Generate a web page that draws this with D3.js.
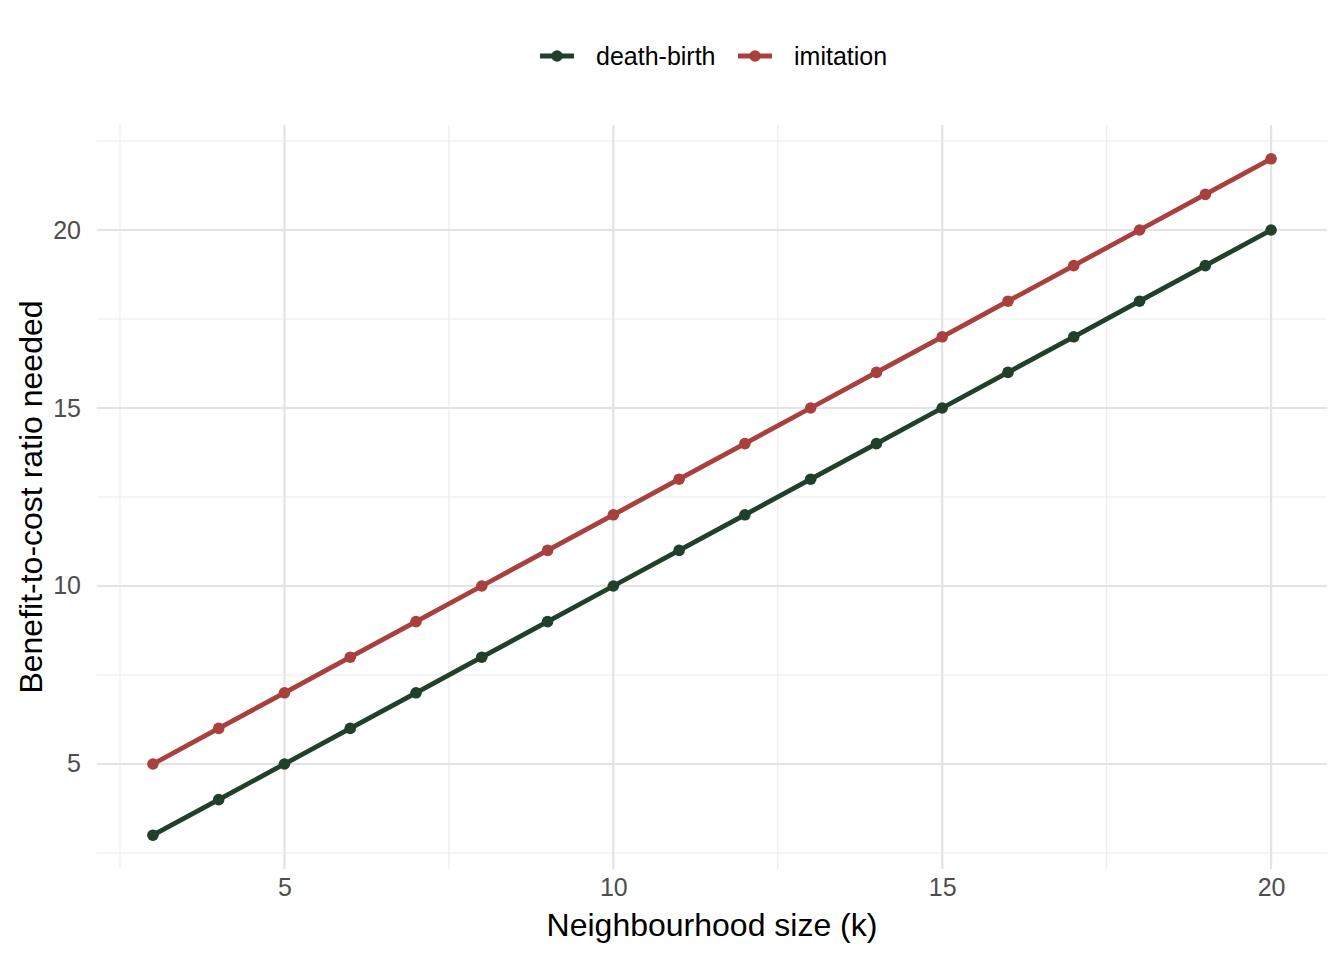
<!DOCTYPE html>
<html lang="en">
<head>
<meta charset="UTF-8" />
<title>Benefit-to-cost ratio</title>
<script src="https://cdn.jsdelivr.net/npm/d3@7"></script>
<style>
  body { margin: 0; background: #fff; }
  svg { font-family: "Liberation Sans", Arial, sans-serif; }
</style>
</head>
<body>
<div id="chart"></div>
<script>
var ks = [3,4,5,6,7,8,9,10,11,12,13,14,15,16,17,18,19,20];
var deathBirth = [3,4,5,6,7,8,9,10,11,12,13,14,15,16,17,18,19,20];
var imitation = [5,6,7,8,9,10,11,12,13,14,15,16,17,18,19,20,21,22];
var seriesNames = ["death-birth", "imitation"];
var seriesColors = ["#20402B", "#A8403E"];
var xTicks = [5,10,15,20];
var yTicks = [5,10,15,20];

var width = 1344, height = 960;
var pLeft = 97, pRight = 1327, pTop = 125, pBottom = 869;

var svg = d3.select("#chart").append("svg")
  .attr("width", width).attr("height", height);

// 5% padding like ggplot
var x = d3.scaleLinear().domain([2.15, 20.85]).range([pLeft, pRight]);
var y = d3.scaleLinear().domain([2.05, 22.95]).range([pBottom, pTop]);

var grid = svg.append("g");
// minor grid
[2.5,7.5,12.5,17.5].forEach(function(v){
  grid.append("line").attr("x1", x(v)).attr("x2", x(v)).attr("y1", pTop).attr("y2", pBottom)
    .attr("stroke", "#ebebeb").attr("stroke-width", 1.1);
});
[2.5,7.5,12.5,17.5,22.5].forEach(function(v){
  grid.append("line").attr("y1", y(v)).attr("y2", y(v)).attr("x1", pLeft).attr("x2", pRight)
    .attr("stroke", "#ebebeb").attr("stroke-width", 1.1);
});
// major grid
xTicks.forEach(function(v){
  grid.append("line").attr("x1", x(v)).attr("x2", x(v)).attr("y1", pTop).attr("y2", pBottom)
    .attr("stroke", "#e3e3e3").attr("stroke-width", 2.2);
});
yTicks.forEach(function(v){
  grid.append("line").attr("y1", y(v)).attr("y2", y(v)).attr("x1", pLeft).attr("x2", pRight)
    .attr("stroke", "#e3e3e3").attr("stroke-width", 2.2);
});

// axes
var xAxis = svg.append("g").attr("transform", "translate(0," + pBottom + ")")
  .call(d3.axisBottom(x).tickValues(xTicks).tickSize(0).tickPadding(9));
var yAxis = svg.append("g").attr("transform", "translate(" + pLeft + ",0)")
  .call(d3.axisLeft(y).tickValues(yTicks).tickSize(0).tickPadding(16));
[xAxis, yAxis].forEach(function(a){
  a.select(".domain").remove();
  a.selectAll("text").attr("fill", "#4d4d4d").style("font-size", "25px")
    .style("font-family", "Liberation Sans, Arial, sans-serif");
});

// axis titles
svg.append("text").attr("x", (pLeft + pRight) / 2).attr("y", 936)
  .attr("text-anchor", "middle").style("font-size", "32px").attr("fill", "#000")
  .text("Neighbourhood size (k)");
svg.append("text").attr("transform", "translate(42," + ((pTop + pBottom) / 2) + ") rotate(-90)")
  .attr("text-anchor", "middle").style("font-size", "32px").attr("fill", "#000")
  .text("Benefit-to-cost ratio needed");

// lines and points
var allSeries = [deathBirth, imitation];
var line = d3.line().x(function(d){ return x(d[0]); }).y(function(d){ return y(d[1]); });
allSeries.forEach(function(vals, i){
  var pts = ks.map(function(k, j){ return [k, vals[j]]; });
  svg.append("path").datum(pts).attr("d", line)
    .attr("fill", "none").attr("stroke", seriesColors[i]).attr("stroke-width", 4.8)
    .attr("stroke-linejoin", "round");
  svg.selectAll(null).data(pts).enter().append("circle")
    .attr("cx", function(d){ return x(d[0]); })
    .attr("cy", function(d){ return y(d[1]); })
    .attr("r", 5.8).attr("fill", seriesColors[i]);
});

// legend
var legend = svg.append("g");
var keyX = [540, 738];
seriesNames.forEach(function(name, i){
  var g = legend.append("g").attr("transform", "translate(" + keyX[i] + ",56)");
  g.append("line").attr("x1", 0).attr("x2", 34).attr("y1", 0).attr("y2", 0)
    .attr("stroke", seriesColors[i]).attr("stroke-width", 4.8);
  g.append("circle").attr("cx", 17).attr("cy", 0).attr("r", 5.8).attr("fill", seriesColors[i]);
  g.append("text").attr("x", 56).attr("y", 8.5).style("font-size", "25px").attr("fill", "#000")
    .text(name);
});
</script>
</body>
</html>
